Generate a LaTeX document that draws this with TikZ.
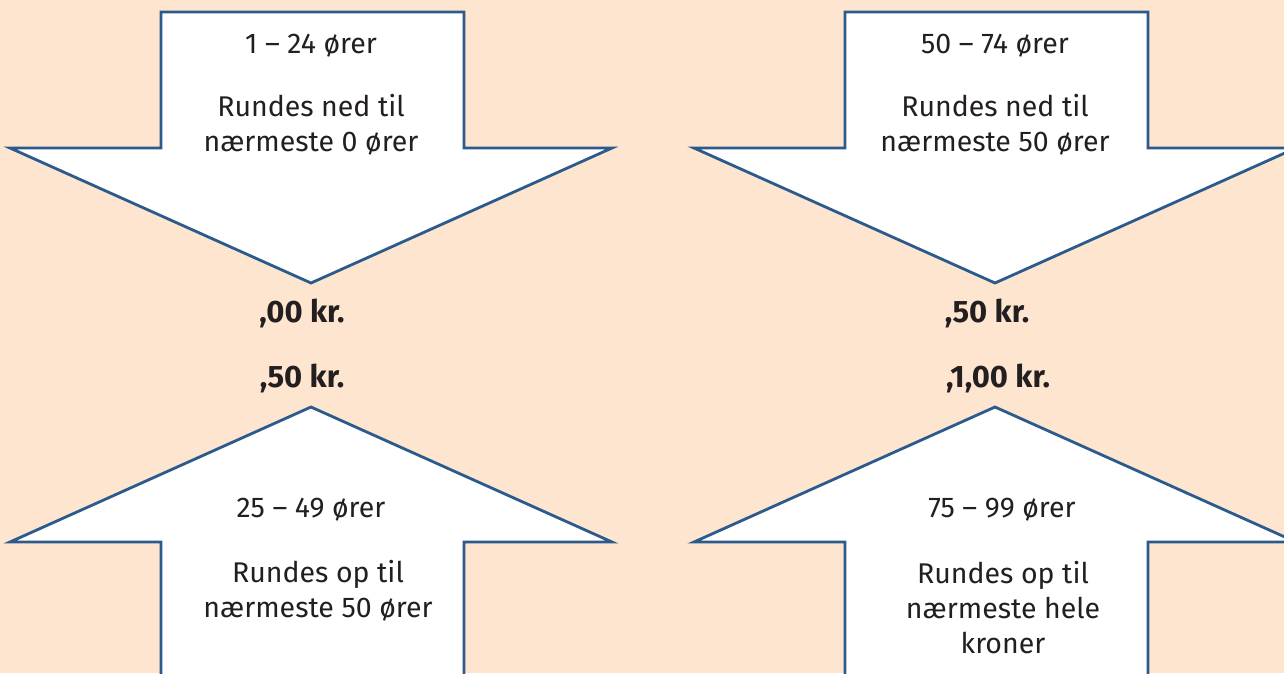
\documentclass[tikz,border=0pt]{standalone}
\usepackage{fontspec}
\setmainfont{Fira Sans}
\definecolor{bgc}{HTML}{FEE5CF}
\definecolor{linec}{HTML}{2B5A8C}
\definecolor{txtc}{HTML}{231F20}
\begin{document}
\begin{tikzpicture}[x=1pt,y=-1pt,
  arrowshape/.style={draw=linec,line width=2.8pt,fill=white,line join=miter},
  txt/.style={text=txtc,font=\fontsize{28.5}{35}\selectfont,align=center,inner sep=0pt,anchor=center},
  bold/.style={text=txtc,font=\fontsize{31}{30}\selectfont\bfseries,inner sep=0pt,anchor=center}]
\useasboundingbox (0,0) rectangle (1284,673);
\fill[bgc] (0,0) rectangle (1284,673);
\foreach \c in {311,995}{
  \draw[arrowshape] (\c-150,12) -- (\c+153,12) -- (\c+153,148) -- (\c+301,148) -- (\c,283) -- (\c-301,148) -- (\c-150,148) -- cycle;
  \draw[arrowshape] (\c-150,690) -- (\c-150,542) -- (\c-301,542) -- (\c,407) -- (\c+301,542) -- (\c+153,542) -- (\c+153,690);
}
\node[txt] (a1) at (311,46) {1 – 24 ører};
\node[txt] (a2) at (311,125) {Rundes ned til\\nærmeste 0 ører};
\node[txt] (b1) at (995,46) {50 – 74 ører};
\node[txt] (b2) at (995,125) {Rundes ned til\\nærmeste 50 ører};
\node[bold] (k1) at (302,313) {,00 kr.};
\node[bold] (k2) at (302,378) {,50 kr.};
\node[bold] (k3) at (987,313) {,50 kr.};
\node[bold] (k4) at (998,378) {,1,00 kr.};
\node[txt] (c1) at (311,510) {25 – 49 ører};
\node[txt] (c2) at (318,591) {Rundes op til\\nærmeste 50 ører};
\node[txt] (d1) at (1002,510) {75 – 99 ører};
\node[txt] (d2) at (1003,608) {Rundes op til\\nærmeste hele\\kroner};
\end{tikzpicture}
\end{document}
